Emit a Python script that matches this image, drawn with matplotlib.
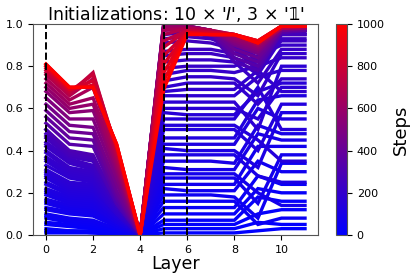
import numpy as np
import matplotlib
matplotlib.use("Agg")
import matplotlib.pyplot as plt
from matplotlib.colors import LinearSegmentedColormap, Normalize
from matplotlib.cm import ScalarMappable

layers = list(range(12))
marked_layers = [0, 5, 6]

# early training (blue)
blue_steps = [0, 8, 15, 22, 30, 38, 45, 52, 60, 68, 75, 82, 90, 98, 105,
              112, 120, 128, 135, 142, 150, 158, 165, 172, 180, 188, 195,
              202, 210, 218, 225, 232, 240, 255, 262, 270, 285]
blue_vals = [
    [0.01, 0.01, 0.01, 0.00, 0, 0.01, 0.01, 0.01, 0.01, 0.02, 0.03, 0.03],
    [0.02, 0.02, 0.01, 0.01, 0, 0.03, 0.03, 0.03, 0.03, 0.06, 0.05, 0.05],
    [0.03, 0.02, 0.02, 0.01, 0, 0.05, 0.05, 0.05, 0.05, 0.10, 0.12, 0.12],
    [0.05, 0.04, 0.03, 0.01, 0, 0.07, 0.07, 0.07, 0.07, 0.18, 0.16, 0.16],
    [0.06, 0.05, 0.04, 0.02, 0, 0.10, 0.10, 0.10, 0.10, 0.22, 0.20, 0.20],
    [0.08, 0.06, 0.05, 0.02, 0, 0.13, 0.13, 0.13, 0.13, 0.28, 0.24, 0.24],
    [0.09, 0.07, 0.06, 0.03, 0, 0.16, 0.16, 0.16, 0.16, 0.05, 0.08, 0.08],
    [0.10, 0.08, 0.07, 0.03, 0, 0.19, 0.19, 0.19, 0.18, 0.08, 0.34, 0.34],
    [0.12, 0.10, 0.09, 0.04, 0, 0.22, 0.21, 0.21, 0.21, 0.35, 0.30, 0.30],
    [0.13, 0.11, 0.10, 0.04, 0, 0.24, 0.24, 0.24, 0.24, 0.42, 0.42, 0.42],
    [0.15, 0.12, 0.11, 0.05, 0, 0.27, 0.27, 0.27, 0.27, 0.15, 0.38, 0.38],
    [0.16, 0.13, 0.12, 0.05, 0, 0.29, 0.29, 0.29, 0.29, 0.20, 0.14, 0.14],
    [0.17, 0.14, 0.13, 0.06, 0, 0.32, 0.31, 0.31, 0.31, 0.48, 0.45, 0.45],
    [0.19, 0.15, 0.14, 0.06, 0, 0.35, 0.35, 0.35, 0.34, 0.52, 0.48, 0.48],
    [0.20, 0.16, 0.15, 0.07, 0, 0.38, 0.38, 0.38, 0.38, 0.28, 0.25, 0.25],
    [0.21, 0.17, 0.16, 0.07, 0, 0.41, 0.40, 0.40, 0.40, 0.32, 0.58, 0.58],
    [0.22, 0.18, 0.17, 0.08, 0, 0.43, 0.43, 0.43, 0.43, 0.60, 0.55, 0.55],
    [0.24, 0.19, 0.18, 0.08, 0, 0.46, 0.46, 0.46, 0.46, 0.64, 0.66, 0.66],
    [0.25, 0.20, 0.19, 0.09, 0, 0.50, 0.50, 0.50, 0.50, 0.40, 0.62, 0.62],
    [0.27, 0.21, 0.20, 0.09, 0, 0.52, 0.52, 0.52, 0.52, 0.45, 0.35, 0.35],
    [0.28, 0.22, 0.21, 0.10, 0, 0.55, 0.55, 0.55, 0.55, 0.70, 0.50, 0.50],
    [0.29, 0.23, 0.22, 0.10, 0, 0.58, 0.57, 0.57, 0.57, 0.68, 0.72, 0.72],
    [0.30, 0.24, 0.23, 0.10, 0, 0.60, 0.60, 0.60, 0.60, 0.55, 0.70, 0.70],
    [0.31, 0.25, 0.24, 0.10, 0, 0.63, 0.63, 0.63, 0.63, 0.50, 0.80, 0.80],
    [0.33, 0.27, 0.25, 0.11, 0, 0.66, 0.66, 0.66, 0.66, 0.75, 0.78, 0.78],
    [0.35, 0.28, 0.26, 0.11, 0, 0.68, 0.69, 0.69, 0.69, 0.78, 0.68, 0.68],
    [0.36, 0.29, 0.27, 0.12, 0, 0.70, 0.72, 0.72, 0.72, 0.62, 0.74, 0.74],
    [0.37, 0.30, 0.28, 0.12, 0, 0.73, 0.75, 0.75, 0.74, 0.66, 0.86, 0.86],
    [0.39, 0.31, 0.29, 0.13, 0, 0.76, 0.78, 0.78, 0.77, 0.80, 0.84, 0.84],
    [0.40, 0.32, 0.30, 0.13, 0, 0.79, 0.80, 0.80, 0.80, 0.85, 0.90, 0.90],
    [0.42, 0.34, 0.31, 0.14, 0, 0.82, 0.83, 0.83, 0.82, 0.72, 0.88, 0.88],
    [0.43, 0.35, 0.32, 0.14, 0, 0.85, 0.86, 0.86, 0.84, 0.76, 0.93, 0.93],
    [0.44, 0.36, 0.33, 0.14, 0, 0.87, 0.88, 0.88, 0.86, 0.82, 0.92, 0.92],
    [0.46, 0.37, 0.35, 0.15, 0, 0.91, 0.92, 0.91, 0.88, 0.78, 0.95, 0.95],
    [0.47, 0.38, 0.36, 0.15, 0, 0.93, 0.94, 0.93, 0.89, 0.80, 0.95, 0.95],
    [0.48, 0.38, 0.36, 0.15, 0, 0.95, 0.96, 0.94, 0.90, 0.83, 0.96, 0.96],
    [0.50, 0.39, 0.37, 0.16, 0, 0.97, 0.98, 0.96, 0.91, 0.84, 0.97, 0.97],
]

# later training (purple -> red)
late_steps = [300, 340, 380, 420, 460, 500, 540, 580, 620,
              660, 700, 740, 780, 820, 860, 900, 940, 1000]
late_vals = [
    [0.50, 0.40, 0.38, 0.15, 0, 0.98, 0.97, 0.95, 0.82, 0.78, 0.96, 0.97],
    [0.53, 0.43, 0.42, 0.17, 0, 0.99, 0.98, 0.96, 0.84, 0.80, 0.96, 0.97],
    [0.56, 0.46, 0.45, 0.19, 0, 0.99, 0.98, 0.96, 0.86, 0.82, 0.97, 0.97],
    [0.59, 0.49, 0.48, 0.21, 0, 1.00, 0.99, 0.97, 0.88, 0.84, 0.97, 0.98],
    [0.62, 0.52, 0.51, 0.24, 0, 1.00, 0.99, 0.97, 0.90, 0.86, 0.97, 0.98],
    [0.65, 0.55, 0.55, 0.27, 0, 1.00, 0.99, 0.97, 0.91, 0.87, 0.98, 0.98],
    [0.68, 0.58, 0.59, 0.30, 0, 0.99, 0.99, 0.97, 0.92, 0.88, 0.98, 0.98],
    [0.70, 0.60, 0.62, 0.32, 0, 0.99, 0.99, 0.97, 0.93, 0.89, 0.98, 0.98],
    [0.72, 0.62, 0.65, 0.34, 0, 0.98, 0.98, 0.97, 0.94, 0.90, 0.98, 0.99],
    [0.74, 0.64, 0.70, 0.36, 0, 0.97, 0.98, 0.97, 0.95, 0.90, 0.98, 0.99],
    [0.76, 0.66, 0.74, 0.38, 0, 0.95, 0.98, 0.97, 0.95, 0.91, 0.98, 0.99],
    [0.77, 0.67, 0.77, 0.40, 0, 0.92, 0.97, 0.96, 0.95, 0.91, 0.99, 0.99],
    [0.78, 0.68, 0.76, 0.41, 0, 0.89, 0.97, 0.96, 0.95, 0.91, 0.99, 0.99],
    [0.79, 0.69, 0.73, 0.42, 0, 0.85, 0.96, 0.96, 0.95, 0.91, 0.99, 0.99],
    [0.80, 0.69, 0.71, 0.42, 0, 0.81, 0.96, 0.95, 0.95, 0.92, 0.99, 0.99],
    [0.80, 0.70, 0.70, 0.43, 0, 0.77, 0.96, 0.95, 0.95, 0.92, 0.99, 0.99],
    [0.81, 0.70, 0.70, 0.43, 0, 0.73, 0.955, 0.95, 0.95, 0.92, 0.99, 0.99],
    [0.81, 0.70, 0.70, 0.43, 0, 0.69, 0.95, 0.95, 0.95, 0.91, 0.99, 0.99],
]

steps = blue_steps + late_steps
vals = blue_vals + late_vals

cmap = LinearSegmentedColormap.from_list("br", [(0, 0, 1), (1, 0, 0)])
norm = Normalize(vmin=0, vmax=1000)

fig = plt.figure(figsize=(4.15, 2.77), dpi=100)
ax = fig.add_axes([0.0795, 0.1516, 0.6867, 0.7617])
cax = fig.add_axes([0.8096, 0.1516, 0.0265, 0.7617])

for s, v in zip(steps, vals):
    ax.plot(layers, v, color=cmap(norm(s)), lw=2.4, solid_joinstyle="miter")

for x in marked_layers:
    ax.axvline(x, color="k", ls="--", lw=1.4)

ax.set_ylim(0, 1)
ax.set_xticks([0, 2, 4, 6, 8, 10])
ax.set_yticks([0.0, 0.2, 0.4, 0.6, 0.8, 1.0])
ax.tick_params(labelsize=8)
ax.set_xlabel("Layer", fontsize=12.5, labelpad=0)
ax.set_title("Initializations: 10 \u00d7 '$I$', 3 \u00d7 '\U0001D7D9'", fontsize=12.5, pad=3)
for sp in ax.spines.values():
    sp.set_color("#555555")

cb = fig.colorbar(ScalarMappable(norm=norm, cmap=cmap), cax=cax)
cb.set_ticks([0, 200, 400, 600, 800, 1000])
cb.ax.tick_params(labelsize=8)
cb.outline.set_edgecolor("#555555")
cb.set_label("Steps", fontsize=13, labelpad=5)

fig.savefig("out.png", dpi=100)
